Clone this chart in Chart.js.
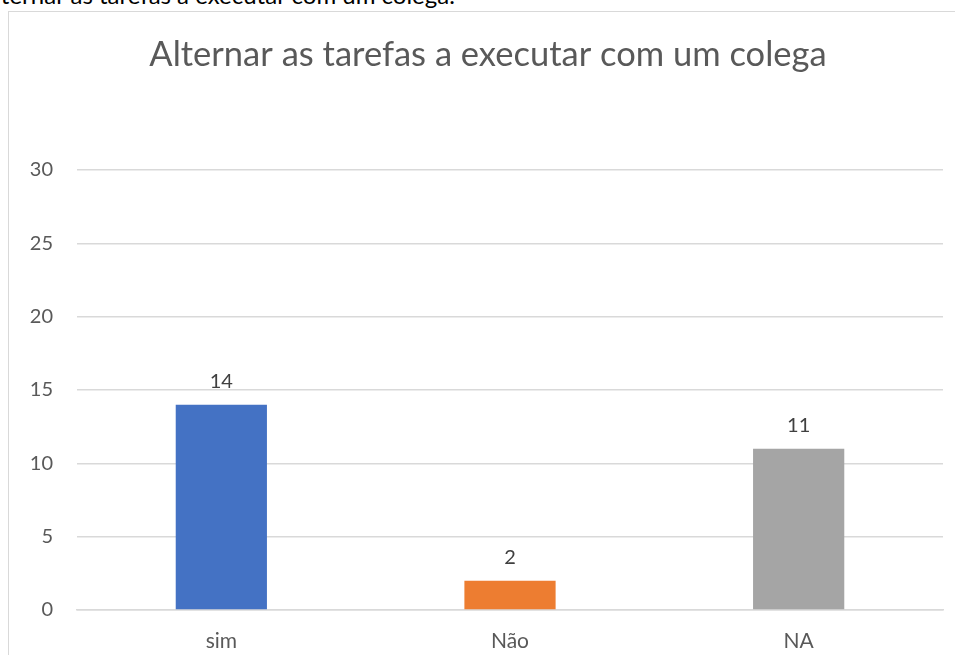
<!DOCTYPE html>
<html>
<head>
<meta charset="utf-8">
<script src="https://cdn.jsdelivr.net/npm/chart.js@4/dist/chart.umd.min.js"></script>
<style>
  html, body { margin: 0; padding: 0; background: #fff; overflow: hidden; }
  body { width: 955px; height: 655px; position: relative; font-family: Lato, "Open Sans", sans-serif; }
  #above { position: absolute; left: -21px; top: -20px; font-size: 24px; line-height: 29px; color: #000; white-space: nowrap; font-family: Lato, sans-serif; }
  #frame { position: absolute; left: 8px; top: 11px; width: 960px; height: 700px; border: 1.5px solid #d9d9d9; box-sizing: border-box; }
  #wrap { position: absolute; left: 0; top: 0; width: 955px; height: 655px; }
</style>
</head>
<body>
<div id="above">Alternar as tarefas a executar com um colega.</div>
<div id="frame"></div>
<div id="wrap"><canvas id="c" width="955" height="655"></canvas></div>
<script>
const chartTitle = "Alternar as tarefas a executar com um colega";
const categories = ["sim", "Não", "NA"];
const values = [14, 2, 11];
const barColors = ["#4472C4", "#ED7D31", "#A5A5A5"];
const yTicks = [0, 5, 10, 15, 20, 25, 30];

const dataLabels = {
  id: 'dataLabels',
  afterDatasetsDraw(chart) {
    const ctx = chart.ctx;
    const meta = chart.getDatasetMeta(0);
    ctx.save();
    ctx.font = '20px Lato, sans-serif';
    ctx.fillStyle = '#404040';
    ctx.textAlign = 'center';
    ctx.textBaseline = 'bottom';
    meta.data.forEach((bar, i) => {
      ctx.fillText(String(values[i]), bar.x, bar.y - 13);
    });
    ctx.restore();
  }
};

const titleDraw = {
  id: 'titleDraw',
  afterDraw(chart) {
    const ctx = chart.ctx;
    ctx.save();
    ctx.font = '34.5px Lato, sans-serif';
    ctx.fillStyle = '#595959';
    ctx.textAlign = 'center';
    ctx.textBaseline = 'middle';
    ctx.fillText(chartTitle, 488, 55);
    ctx.restore();
  }
};

new Chart(document.getElementById('c'), {
  type: 'bar',
  data: {
    labels: categories,
    datasets: [{
      data: values,
      backgroundColor: barColors,
      borderWidth: 0,
      barPercentage: 0.316,
      categoryPercentage: 1.0
    }]
  },
  options: {
    responsive: false,
    animation: false,
    layout: { padding: { left: 0, right: 12, top: 170, bottom: 0 } },
    plugins: {
      legend: { display: false },
      tooltip: { enabled: false },
      title: { display: false }
    },
    scales: {
      x: {
        grid: { display: false, drawTicks: false },
        border: { display: true, color: '#d9d9d9', width: 1.5 },
        ticks: { color: '#595959', font: { family: 'Lato, sans-serif', size: 21 }, padding: 19 },
        afterFit(scale) { scale.height = 45; }
      },
      y: {
        min: 0, max: 30,
        afterBuildTicks(scale) { scale.ticks = yTicks.map(v => ({ value: v })); },
        grid: { color: '#d9d9d9', lineWidth: 1.5, drawTicks: false },
        border: { display: false },
        ticks: { color: '#595959', font: { family: 'Lato, sans-serif', size: 20 }, padding: 24 },
        afterFit(scale) { scale.width = 77; }
      }
    }
  },
  plugins: [dataLabels, titleDraw]
});
</script>
</body>
</html>
